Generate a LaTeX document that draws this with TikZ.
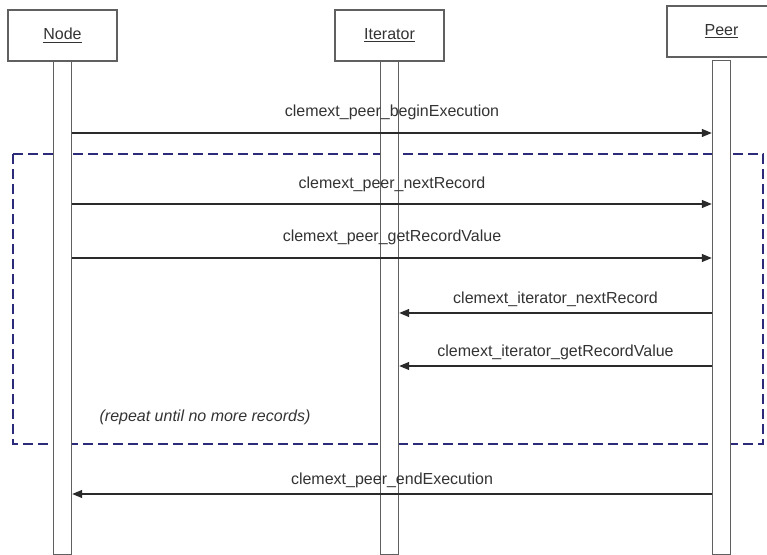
\documentclass[tikz,border=0pt]{standalone}
\usepackage{fontspec}
\setmainfont{Liberation Sans}
\usetikzlibrary{arrows.meta}
\definecolor{boxgray}{HTML}{606060}
\definecolor{linegray}{HTML}{2A2A2A}
\definecolor{txtgray}{HTML}{333333}
\definecolor{loopnavy}{HTML}{2B2B7A}
\begin{document}
\begin{tikzpicture}[x=0.75pt,y=-0.75pt,
  every node/.style={font=\fontsize{12}{14}\selectfont, text=txtgray},
  objbox/.style={draw=boxgray, line width=1.1pt, fill=white, minimum width=81.75pt, minimum height=38.25pt, inner sep=0pt},
  lifebar/.style={draw=boxgray, line width=1.1pt, fill=white, minimum width=13.5pt, inner sep=0pt, anchor=north},
  msg/.style={draw=linegray, line width=0.9pt, -{Triangle[length=7.5pt,width=6pt]}},
  msglabel/.style={anchor=base, inner sep=0pt},
  loopbox/.style={draw=loopnavy, line width=1.1pt, dash pattern=on 7.5pt off 3.75pt}]
\useasboundingbox (0,0) rectangle (767,555);
% loop frame
\draw[loopbox] (13,154) rectangle (763,444);
% lifelines
\node[lifebar, minimum height=369.75pt] (nbar) at (62.5,61) {};
\node[lifebar, minimum height=369.75pt] (ibar) at (389.5,61) {};
\node[lifebar, minimum height=370.5pt] (pbar) at (721.5,60) {};
% objects
\node[objbox] (node) at (62.5,35.5) {\underline{Node}};
\node[objbox] (iter) at (389.5,35.5) {\underline{Iterator}};
\node[objbox] (peer) at (721.5,31.5) {\underline{Peer}};
% message rows
\coordinate (y1) at (0,133);
\coordinate (y2) at (0,204);
\coordinate (y3) at (0,258);
\coordinate (y4) at (0,313);
\coordinate (y5) at (0,366);
\coordinate (y6) at (0,494);
\draw[msg] (nbar.east |- y1) -- node[msglabel, yshift=12pt] {clemext\_peer\_beginExecution} (pbar.west |- y1);
\draw[msg] (nbar.east |- y2) -- node[msglabel, yshift=11.5pt] {clemext\_peer\_nextRecord} (pbar.west |- y2);
\draw[msg] (nbar.east |- y3) -- node[msglabel, yshift=12pt] {clemext\_peer\_getRecordValue} (pbar.west |- y3);
\draw[msg] (pbar.west |- y4) -- node[msglabel, yshift=7pt] {clemext\_iterator\_nextRecord} (ibar.east |- y4);
\draw[msg] (pbar.west |- y5) -- node[msglabel, yshift=7pt] {clemext\_iterator\_getRecordValue} (ibar.east |- y5);
\draw[msg] (pbar.west |- y6) -- node[msglabel, yshift=7pt] {clemext\_peer\_endExecution} (nbar.east |- y6);
% note
\node (note) at (205,417) {\itshape (repeat until no more records)};
\end{tikzpicture}
\end{document}
